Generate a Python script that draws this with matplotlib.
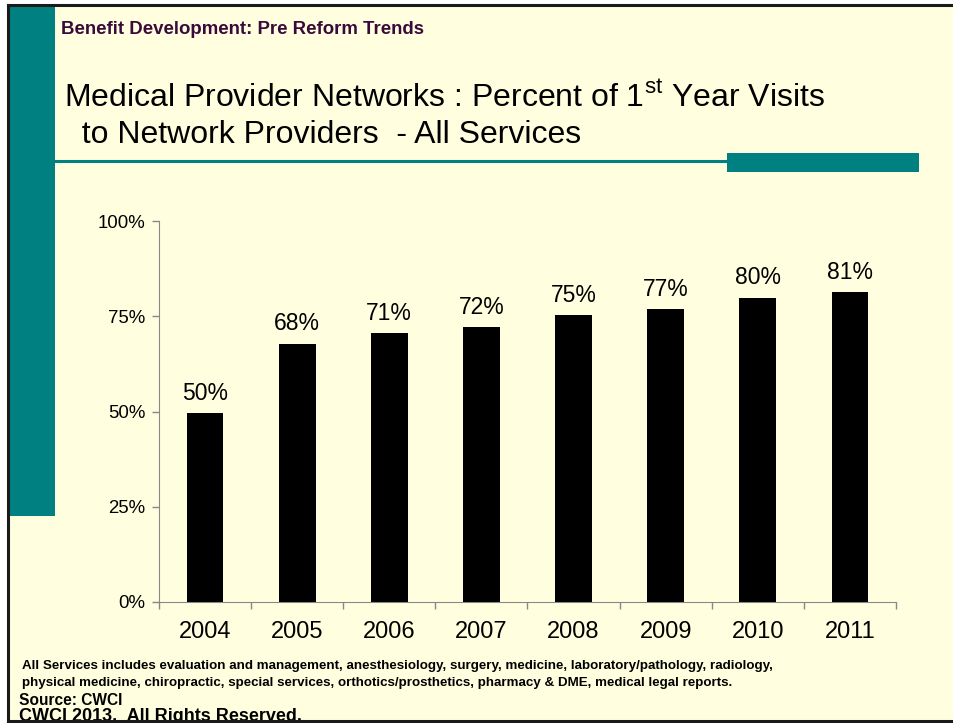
import matplotlib
matplotlib.use("Agg")
import matplotlib.pyplot as plt
from matplotlib.patches import Rectangle
from matplotlib.lines import Line2D
from matplotlib.ticker import FixedLocator, PercentFormatter

plt.rcParams['font.family'] = ['Liberation Sans', 'DejaVu Sans']
plt.rcParams['mathtext.fontset'] = 'custom'
plt.rcParams['mathtext.rm'] = 'Liberation Sans'

# share of first-year visits going to network providers
years = ["2004", "2005", "2006", "2007", "2008", "2009", "2010", "2011"]
pct_network = [49.6, 67.8, 70.6, 72.2, 75.2, 76.8, 79.9, 81.3]
y_ticks = [0, 25, 50, 75, 100]

BG = "#ffffe0"
TEAL = "#008080"
W, H = 954, 723

fig = plt.figure(figsize=(W / 100, H / 100), dpi=100, facecolor="white")


def fx(px):
    return px / W


def fy(py):
    return 1 - py / H


# slide background, frame and teal decorations
fig.patches.append(Rectangle((fx(8), fy(721)), fx(W - 8), fy(5) - fy(721),
                             transform=fig.transFigure, facecolor=BG, edgecolor="none", zorder=-2))
fig.patches.append(Rectangle((fx(9), fy(516)), fx(46), fy(6) - fy(516),
                             transform=fig.transFigure, facecolor=TEAL, edgecolor="none", zorder=-1))
fig.lines.append(Line2D([fx(55), fx(727)], [fy(161), fy(161)], transform=fig.transFigure,
                        color=TEAL, lw=2.2, zorder=-1))
fig.patches.append(Rectangle((fx(727), fy(172)), fx(192), fy(153) - fy(172),
                             transform=fig.transFigure, facecolor=TEAL, edgecolor="none", zorder=-1))

# header and title
fig.text(fx(61), fy(34), "Benefit Development: Pre Reform Trends", fontsize=13.4,
         fontweight="bold", color="#3a0a3a", va="baseline", ha="left")
fig.text(fx(64), fy(107), r"Medical Provider Networks : Percent of 1$^{\mathrm{st}}$ Year Visits",
         fontsize=23, color="black", va="baseline", ha="left")
fig.text(fx(64), fy(143), "  to Network Providers  - All Services",
         fontsize=23, color="black", va="baseline", ha="left")

# bar chart
ax = fig.add_axes([fx(159), fy(602), fx(896 - 159), fy(221) - fy(602)])
ax.set_zorder(2)
ax.set_facecolor("none")
x = range(len(years))
bars = ax.bar(x, pct_network, width=0.4, color="black", zorder=3)
for i, v in enumerate(pct_network):
    ax.text(i, v + 2.2, f"{v:.0f}%", ha="center", va="bottom", fontsize=16.5, color="black")

ax.set_xlim(-0.5, len(years) - 0.5)
ax.set_ylim(0, 100)
ax.yaxis.set_major_locator(FixedLocator(y_ticks))
ax.yaxis.set_major_formatter(PercentFormatter(decimals=0))
ax.set_xticks(list(x))
ax.set_xticklabels(years, fontsize=17)
ax.xaxis.set_minor_locator(FixedLocator([i - 0.5 for i in range(len(years) + 1)]))
ax.tick_params(axis="x", which="major", length=0, pad=14)
ax.tick_params(axis="x", which="minor", length=5, color="#888888", width=1)
ax.tick_params(axis="y", length=5, color="#888888", width=1, labelsize=13.4, pad=5)
for side in ["top", "right"]:
    ax.spines[side].set_visible(False)
for side in ["left", "bottom"]:
    ax.spines[side].set_color("#888888")

# footnotes
note = ("All Services includes evaluation and management, anesthesiology, surgery, medicine, "
        "laboratory/pathology, radiology,")
note2 = ("physical medicine, chiropractic, special services, orthotics/prosthetics, pharmacy & DME, "
         "medical legal reports.")
fig.text(fx(22), fy(669), note, fontsize=9.6, fontweight="bold", va="baseline", ha="left")
fig.text(fx(22), fy(686), note2, fontsize=9.6, fontweight="bold", va="baseline", ha="left")
fig.text(fx(19), fy(705), "Source: CWCI", fontsize=11.2, fontweight="bold", va="baseline", ha="left")
fig.text(fx(19), fy(721), "CWCI 2013.  All Rights Reserved.", fontsize=13, fontweight="bold",
         va="baseline", ha="left")

# frame lines drawn last so the last footnote line is cut by the bottom edge
fig.patches.append(Rectangle((0, 0), 1, fy(721), transform=fig.transFigure,
                             facecolor="white", edgecolor="none", zorder=10))
fig.lines.append(Line2D([fx(8), 1], [fy(5), fy(5)], transform=fig.transFigure,
                        color="#1a1a1a", lw=2.2, zorder=11))
fig.lines.append(Line2D([fx(8), 1], [fy(721), fy(721)], transform=fig.transFigure,
                        color="#1a1a1a", lw=2.2, zorder=11))
fig.lines.append(Line2D([fx(8), fx(8)], [fy(5), fy(721)], transform=fig.transFigure,
                        color="#1a1a1a", lw=2.2, zorder=11))

fig.savefig("out.png", dpi=100, facecolor="white")
